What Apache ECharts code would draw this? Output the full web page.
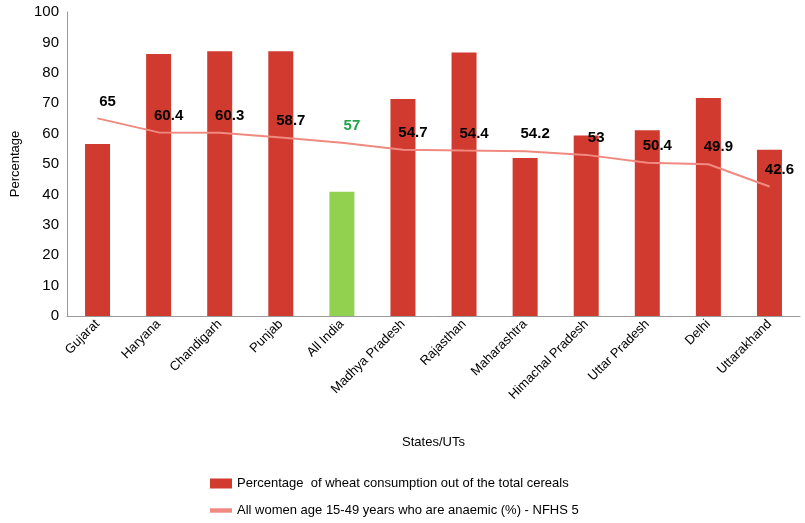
<!DOCTYPE html>
<html lang="en">
<head>
    <meta charset="UTF-8">
    <title>Wheat consumption vs anaemia</title>
    <script src="https://cdn.jsdelivr.net/npm/echarts@6/dist/echarts.min.js"></script>
</head>
<body style="margin:0">
    <div id="myCharts" style="width:805px;height:523px;background:#fff;"></div>
    <script type="text/javascript">
        var states = ['Gujarat', 'Haryana', 'Chandigarh', 'Punjab', 'All India', 'Madhya Pradesh', 'Rajasthan',
            'Maharashtra', 'Himachal Pradesh', 'Uttar Pradesh', 'Delhi', 'Uttarakhand']
        var wheatShare = [56.6, 86.2, 87.1, 87.1, 40.9, 71.4, 86.7, 52, 59.4, 61.1, 71.7, 54.7]
        var anaemic = [65, 60.4, 60.3, 58.7, 57, 54.7, 54.4, 54.2, 53, 50.4, 49.9, 42.6]

        var myChart = echarts.init(document.getElementById('myCharts'))
        var option = {
            textStyle: { fontFamily: 'Liberation Sans, Arial' },
            legend: {
                orient: 'vertical',
                left: 205,
                top: 472,
                itemGap: 14,
                itemWidth: 22,
                itemHeight: 10,
                textStyle: { color: '#000', fontSize: 13 },
                data: [
                    { name: 'Percentage  of wheat consumption out of the total cereals', icon: 'rect' },
                    { name: 'All women age 15-49 years who are anaemic (%) - NFHS 5', icon: 'path://M0,4H10V6H0Z' }
                ]
            },
            grid: { left: 67, right: 5, top: 12, bottom: 207 },
            xAxis: {
                type: 'category',
                data: states,
                name: 'States/UTs',
                nameLocation: 'middle',
                nameGap: 120,
                nameTextStyle: { color: '#000', fontSize: 13 },
                axisLine: { lineStyle: { color: '#999' } },
                axisTick: { show: false },
                axisLabel: { rotate: 45, color: '#000', fontSize: 13, interval: 0, margin: 6 }
            },
            yAxis: {
                type: 'value',
                min: 0, max: 100, interval: 10,
                name: 'Percentage',
                nameLocation: 'middle',
                nameGap: 45,
                nameTextStyle: { color: '#000', fontSize: 13 },
                axisLine: { show: true, lineStyle: { color: '#999' } },
                axisLabel: { color: '#000', fontSize: 15 },
                splitLine: { show: false }
            },
            series: [
                {
                    name: 'Percentage  of wheat consumption out of the total cereals',
                    type: 'bar',
                    barWidth: 25,
                    itemStyle: { color: '#d13a2f' },
                    data: wheatShare.map(function (v, i) {
                        return states[i] === 'All India' ? { value: v, itemStyle: { color: '#92d050' } } : v
                    })
                },
                {
                    name: 'All women age 15-49 years who are anaemic (%) - NFHS 5',
                    type: 'line',
                    symbol: 'circle',
                    symbolSize: 1,
                    showSymbol: true,
                    z: 5,
                    lineStyle: { color: '#f08a80', width: 2 },
                    itemStyle: { color: '#f08a80' },
                    label: {
                        show: true,
                        position: 'top',
                        offset: [10, -4],
                        color: '#000',
                        fontWeight: 'bold',
                        fontSize: 15
                    },
                    data: anaemic.map(function (v, i) {
                        return states[i] === 'All India' ? { value: v, label: { color: '#21a348' } } : v
                    })
                }
            ]
        }
        myChart.setOption(option, true)
    </script>
</body>
</html>
